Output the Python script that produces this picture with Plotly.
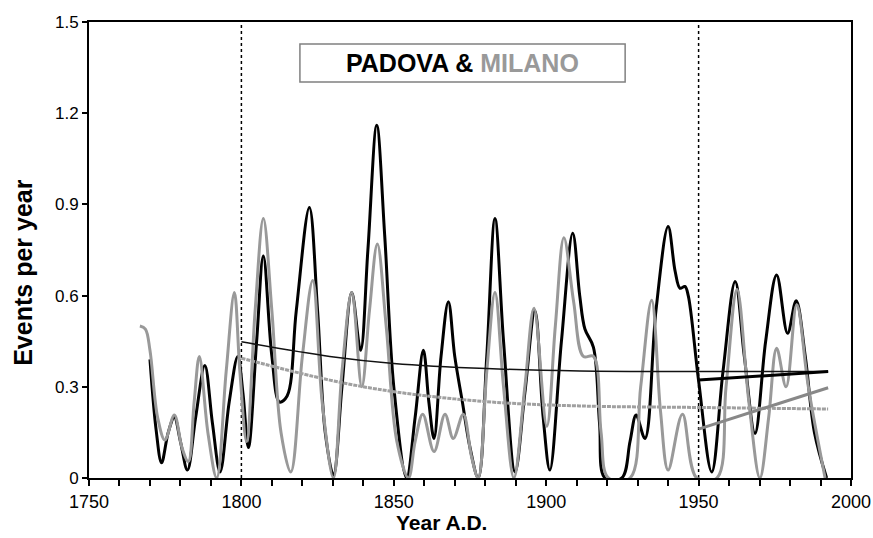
import plotly.graph_objects as go

# ---- data ----
padova_years = [1770, 1772, 1773.8, 1776, 1778, 1780, 1782.3, 1785, 1788, 1790.5, 1793, 1796, 1798.8,
                1800.5, 1802.3, 1805, 1807.2, 1810, 1812.5, 1815, 1818, 1822.3, 1825, 1827.5, 1830.2,
                1833, 1836.2, 1839.1, 1841.5, 1844.4, 1847, 1850, 1854.2, 1857, 1859.7, 1861.5, 1863.2,
                1865.5, 1867.9, 1870, 1872.5, 1875, 1877.7, 1880.5, 1883.2, 1886, 1889.8, 1893, 1896.3,
                1899, 1901.2, 1905, 1908.7, 1911, 1912.7, 1915.5, 1917.5, 1919.3, 1924.8, 1927.5, 1929.5,
                1932.4, 1936, 1940, 1942.3, 1943.9, 1945.5, 1946.6, 1950, 1954.3, 1958, 1962, 1965,
                1968.5, 1972, 1975.6, 1979.2, 1982, 1985, 1988, 1992]
padova_vals = [0.39, 0.16, 0.05, 0.15, 0.20, 0.12, 0.026, 0.20, 0.37, 0.18, 0.02, 0.25, 0.40,
               0.28, 0.10, 0.45, 0.73, 0.40, 0.25, 0.27, 0.55, 0.89, 0.55, 0.15, 0.01,
               0.30, 0.61, 0.42, 0.75, 1.16, 0.80, 0.30, 0.0, 0.20, 0.42, 0.25, 0.13,
               0.40, 0.58, 0.40, 0.25, 0.10, 0.0, 0.40, 0.854, 0.45, 0.02, 0.28, 0.55,
               0.20, 0.026, 0.45, 0.805, 0.60, 0.49, 0.43, 0.18, 0.0, 0.0, 0.12, 0.207,
               0.13, 0.55, 0.827, 0.68, 0.624, 0.63, 0.60, 0.32, 0.02, 0.35, 0.646, 0.40,
               0.147, 0.45, 0.668, 0.476, 0.583, 0.40, 0.15, 0.0]

milano_years = [1766.7, 1768.5, 1770, 1772.5, 1774.9, 1778, 1780.5, 1782.6, 1784.5, 1786.2, 1789,
                1791.9, 1795, 1797.7, 1799.5, 1801.7, 1804.5, 1807.2, 1810, 1813, 1816.2, 1820,
                1823.4, 1826.5, 1830.2, 1833, 1836.2, 1839.5, 1842, 1844.6, 1847.5, 1851, 1854.8,
                1857, 1859.5, 1863.2, 1866.8, 1869.5, 1872.8, 1875.5, 1877.7, 1880.5, 1883.2, 1886,
                1889.4, 1893, 1896, 1900.2, 1903, 1905.8, 1909, 1912.2, 1915.5, 1918, 1920.4,
                1927.5, 1931, 1934.6, 1937.5, 1940, 1944.7, 1949.4, 1956, 1959, 1962.6, 1966.5,
                1970.1, 1973, 1975.6, 1978.7, 1982.2, 1986, 1991.5]
milano_vals = [0.50, 0.49, 0.42, 0.20, 0.125, 0.207, 0.10, 0.054, 0.25, 0.40, 0.15,
               0.0, 0.35, 0.61, 0.35, 0.12, 0.55, 0.854, 0.55, 0.15, 0.02, 0.40,
               0.65, 0.25, 0.0, 0.35, 0.61, 0.30, 0.55, 0.77, 0.50, 0.12, 0.0,
               0.12, 0.21, 0.087, 0.21, 0.13, 0.21, 0.07, 0.0, 0.35, 0.61, 0.30,
               0.0, 0.30, 0.558, 0.17, 0.50, 0.79, 0.58, 0.40, 0.40, 0.15, 0.0,
               0.0, 0.30, 0.585, 0.22, 0.026, 0.21, 0.0, 0.0, 0.30, 0.62, 0.25,
               0.0, 0.20, 0.427, 0.30, 0.57, 0.30, 0.0]

trend_years = [1800, 1829, 1850, 1880.5, 1911, 1950, 1992.5]
padova_trend = [0.448, 0.40, 0.377, 0.36, 0.352, 0.35, 0.35]
milano_trend = [0.394, 0.322, 0.284, 0.251, 0.237, 0.232, 0.227]

seg_years = [1950, 1992.5]
padova_seg = [0.322, 0.35]
milano_seg = [0.161, 0.297]

x_ticks = [1750, 1800, 1850, 1900, 1950, 2000]
y_ticks = [0, 0.3, 0.6, 0.9, 1.2, 1.5]
y_tick_labels = ["0", "0.3", "0.6", "0.9", "1.2", "1.5"]
period_bounds = [1800, 1950]

BLACK = "#000000"
GREY = "#999999"
FONT = "Liberation Sans, Arial, sans-serif"

fig = go.Figure()
fig.add_trace(go.Scatter(x=padova_years, y=padova_vals, mode="lines",
                         line=dict(color=BLACK, width=3, shape="spline", smoothing=1.0),
                         name="Padova"))
fig.add_trace(go.Scatter(x=milano_years, y=milano_vals, mode="lines",
                         line=dict(color=GREY, width=3, shape="spline", smoothing=1.0),
                         name="Milano"))
fig.add_trace(go.Scatter(x=trend_years, y=padova_trend, mode="lines",
                         line=dict(color="#111111", width=1.5, shape="spline"),
                         name="Padova trend"))
fig.add_trace(go.Scatter(x=trend_years, y=milano_trend, mode="lines",
                         line=dict(color="#a0a0a0", width=3, shape="spline", dash="4px,1px"),
                         name="Milano trend"))
fig.add_trace(go.Scatter(x=seg_years, y=padova_seg, mode="lines",
                         line=dict(color=BLACK, width=3), name="Padova 1950-"))
fig.add_trace(go.Scatter(x=seg_years, y=milano_seg, mode="lines",
                         line=dict(color="#888888", width=3), name="Milano 1950-"))

for yr in period_bounds:
    fig.add_shape(type="line", xref="x", yref="y", x0=yr, x1=yr, y0=0, y1=1.5,
                  line=dict(color=BLACK, width=1.5, dash="dot"), layer="below")

# title box
fig.add_shape(type="rect", xref="x", yref="y", x0=1819.2, x1=1925.9, y0=1.303, y1=1.428,
              line=dict(color="#808080", width=1.5), fillcolor="white")
fig.add_annotation(x=(1819.2 + 1925.9) / 2, y=(1.303 + 1.428) / 2, xref="x", yref="y",
                   text="<b>PADOVA & <span style='color:#999999'>MILANO</span></b>",
                   showarrow=False, font=dict(family=FONT, size=25, color=BLACK),
                   xanchor="center", yanchor="middle")

# axis titles
fig.add_annotation(x=0, y=0.45, xref="paper", yref="paper", xshift=-66,
                   text="<b>Events per year</b>", textangle=-90, showarrow=False,
                   font=dict(family=FONT, size=25, color=BLACK),
                   xanchor="center", yanchor="middle")
fig.add_annotation(x=0.462, y=0, xref="paper", yref="paper", yshift=-44,
                   text="<b>Year A.D.</b>", showarrow=False,
                   font=dict(family=FONT, size=21, color=BLACK),
                   xanchor="center", yanchor="middle")

fig.update_layout(
    width=873, height=538,
    margin=dict(l=89, r=22, t=22, b=60, autoexpand=False),
    plot_bgcolor="white", paper_bgcolor="white",
    showlegend=False,
    font=dict(family=FONT, size=17, color=BLACK),
)
fig.update_xaxes(range=[1750, 2000], tickmode="array", tickvals=x_ticks, ticks="outside",
                 ticklen=6, tickwidth=1.5, tickcolor=BLACK,
                 minor=dict(tickmode="linear", dtick=10, tick0=1750, ticks="outside", ticklen=6,
                            tickwidth=1.5, tickcolor=BLACK, showgrid=False),
                 showline=True, linecolor=BLACK, linewidth=2, mirror=True,
                 showgrid=False, zeroline=False, tickfont=dict(family=FONT, size=18))
fig.update_yaxes(range=[0, 1.5], tickvals=y_ticks, ticktext=y_tick_labels, ticks="outside",
                 ticklen=5, tickwidth=1.5, tickcolor=BLACK,
                 showline=True, linecolor=BLACK, linewidth=2, mirror=True,
                 showgrid=False, zeroline=False, tickfont=dict(family=FONT, size=17))

fig.write_html("out.html", config={"displayModeBar": False},
               post_script="document.body.style.margin='0';")
